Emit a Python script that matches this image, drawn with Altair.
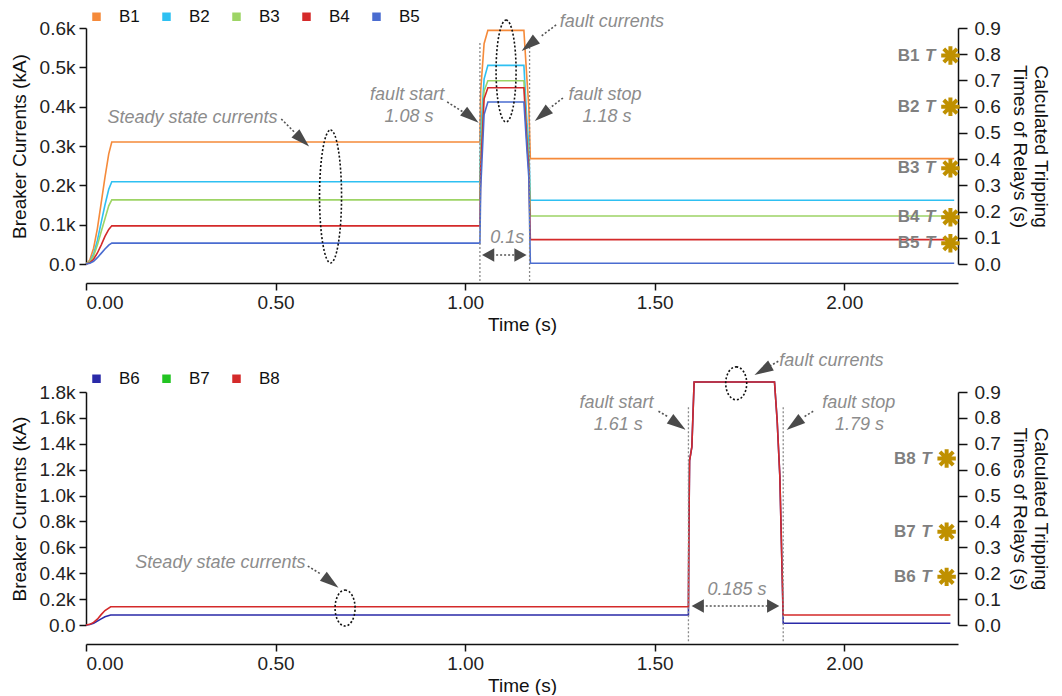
import altair as alt
import pandas as pd

FONT = "Liberation Sans"

# ---------------- top panel data (currents in kA) ----------------
top_time = [0, 0.01, 0.02, 0.03, 0.04, 0.05, 0.06, 0.068, 1.039, 1.041, 1.05, 1.06,
            1.155, 1.163, 1.168, 1.172, 2.29]
b1 = [0, 0.01, 0.04, 0.09, 0.155, 0.22, 0.28, 0.31, 0.31, 0.44, 0.56, 0.594, 0.594, 0.47, 0.40, 0.268, 0.268]
b2 = [0, 0.006, 0.025, 0.06, 0.105, 0.15, 0.19, 0.209, 0.209, 0.33, 0.47, 0.505, 0.505, 0.36, 0.30, 0.162, 0.162]
b3 = [0, 0.005, 0.02, 0.048, 0.082, 0.115, 0.148, 0.163, 0.163, 0.29, 0.44, 0.466, 0.466, 0.33, 0.27, 0.122, 0.122]
b4 = [0, 0.003, 0.012, 0.028, 0.048, 0.07, 0.088, 0.097, 0.097, 0.24, 0.42, 0.448, 0.448, 0.31, 0.24, 0.062, 0.062]
b5 = [0, 0.002, 0.007, 0.016, 0.027, 0.038, 0.048, 0.053, 0.053, 0.19, 0.38, 0.412, 0.412, 0.29, 0.22, 0.002, 0.002]
top_names = ["B1", "B2", "B3", "B4", "B5"]
top_colors = ["#f58a3a", "#2ec0f2", "#9dd465", "#d42a2a", "#4a6cd0"]
top_trip = [0.795, 0.60, 0.365, 0.178, 0.079]

# ---------------- bottom panel data (currents in kA) ----------------
bot_time = [0, 0.01, 0.02, 0.03, 0.04, 0.05, 0.065, 1.589, 1.590, 1.592, 1.598, 1.604,
            1.816, 1.823, 1.830, 1.836, 1.839, 2.28]
b6 = [0, 0.004, 0.014, 0.03, 0.047, 0.064, 0.077, 0.077, 0.68, 1.27, 1.376, 1.877, 1.877, 1.58, 1.157, 0.42, 0.013, 0.013]
b7 = [0, 0.005, 0.02, 0.045, 0.08, 0.112, 0.141, 0.141, 0.68, 1.27, 1.376, 1.877, 1.877, 1.58, 1.157, 0.42, 0.077, 0.077]
b8 = [0, 0.005, 0.02, 0.045, 0.08, 0.112, 0.141, 0.141, 0.68, 1.27, 1.376, 1.877, 1.877, 1.58, 1.157, 0.42, 0.077, 0.077]
bot_names = ["B6", "B7", "B8"]
bot_colors = ["#2a2aa8", "#22c422", "#d42a2a"]
bot_hidden = "B7"   # B7 lies exactly under B8 in the picture
bot_trip = [0.186, 0.36, 0.643]

# ---------------- annotations (data units) ----------------
top_note_text = ["Steady state currents", "fault start", "1.08 s", "fault stop", "1.18 s", "fault currents", "0.1s"]
top_note_t = [0.281, 0.847, 0.852, 1.369, 1.374, 1.387, 1.111]
top_note_v = [0.371, 0.430, 0.374, 0.430, 0.374, 0.615, 0.066]
top_arrow_t = [0.515, 0.9526, 1.258, 1.240, 1.0606]
top_arrow_v = [0.3687, 0.412, 0.422, 0.6077, 0.0229]
top_arrow_t2 = [0.552, 0.9947, 1.224, 1.1976, 1.146]
top_arrow_v2 = [0.333, 0.3865, 0.397, 0.5772, 0.0229]
top_head_t = [0.5705, 1.0158, 1.2029, 1.1686, 1.0606, 1.146]
top_head_v = [0.3153, 0.3738, 0.3788, 0.5568, 0.0229, 0.0229]
top_head_angle = [134, 128, 230, 231, 270, 90]
top_head_kind = ["big", "big", "big", "big", "small", "small"]
top_ell_t = [0.645, 1.108]
top_ell_v = [0.1716, 0.4907]
top_ell_h = [133, 102]
top_ell_w = [22, 20]
top_fault_t = [1.039, 1.170]
top_fault_v = [0.562, 0.562]
top_fault_v2 = [-0.048, -0.048]

bot_note_text = ["Steady state currents", "fault start", "1.61 s", "fault stop", "1.79 s", "fault currents", "0.185 s"]
bot_note_t = [0.3545, 1.399, 1.404, 2.038, 2.040, 1.966, 1.717]
bot_note_v = [0.478, 1.713, 1.543, 1.713, 1.543, 2.037, 0.27]
bot_arrow_t = [0.585, 1.51, 1.918, 1.826, 1.6135]
bot_arrow_v = [0.455, 1.651, 1.651, 2.037, 0.1466]
bot_arrow_t2 = [0.6195, 1.537, 1.892, 1.8016, 1.8126]
bot_arrow_v2 = [0.3935, 1.605, 1.605, 1.998, 0.1466]
bot_head_t = [0.646, 1.561, 1.868, 1.785, 1.6135, 1.8126]
bot_head_v = [0.332, 1.551, 1.551, 1.968, 0.1466, 0.1466]
bot_head_angle = [127, 125, 233, 240, 270, 90]
bot_head_kind = ["big", "big", "big", "big", "small", "small"]
bot_ell_t = [0.6833, 1.715]
bot_ell_v = [0.131, 1.867]
bot_ell_h = [36, 33]
bot_ell_w = [20, 21]
bot_fault_t = [1.589, 1.839]
bot_fault_v = [1.682, 1.682]
bot_fault_v2 = [-0.139, -0.139]

# ---------------- styling helpers ----------------
HEAD_PATH = {"big": "M0,-1L0.6,1L-0.6,1Z", "small": "M0,-1L1.1,1L-1.1,1Z"}
HEAD_SIZE = {"big": 361, "small": 150}
STAR_PATH = "M0,-1L0,1M-1,0L1,0M-0.72,-0.72L0.72,0.72M-0.72,0.72L0.72,-0.72"


def ellipse_path(r):
    k = 0.5523
    return (f"M0,-1C{k*r:.4f},-1 {r:.4f},{-k:.4f} {r:.4f},0"
            f"C{r:.4f},{k:.4f} {k*r:.4f},1 0,1"
            f"C{-k*r:.4f},1 {-r:.4f},{k:.4f} {-r:.4f},0"
            f"C{-r:.4f},{-k:.4f} {-k*r:.4f},-1 0,-1Z")


def long_df(time, names, series):
    rows = []
    for n, vals in zip(names, series):
        for t, v in zip(time, vals):
            rows.append({"time": t, "value": v, "series": n})
    return pd.DataFrame(rows)


X_ENC = alt.X("time:Q", scale=alt.Scale(domain=[0, 2.3], nice=False, zero=False),
              axis=alt.Axis(title="Time (s)", values=[0, 0.5, 1.0, 1.5, 2.0], format=".2f",
                            offset=19, tickSize=7, labelPadding=3, titlePadding=3))
T_ENC = alt.Y("trip:Q", scale=alt.Scale(domain=[0, 0.9], nice=False),
              axis=alt.Axis(orient="right", title=["Calculated Tripping", "Times of Relays (s)"],
                            values=[0, 0.1, 0.2, 0.3, 0.4, 0.5, 0.6, 0.7, 0.8, 0.9], format=".1f",
                            tickSize=9, labelPadding=7, titlePadding=9))


def panel(time, names, series, colors, hidden, trips, ymax, yvals, h,
          note_text, note_t, note_v, ar_t, ar_v, ar_t2, ar_v2,
          hd_t, hd_v, hd_a, hd_k, el_t, el_v, el_h, el_w, f_t, f_v, f_v2,
          star_t, legend_y):
    lines_df = long_df(time, names, series)
    y_enc = alt.Y("value:Q", scale=alt.Scale(domain=[0, ymax], nice=False),
                  axis=alt.Axis(title="Breaker Currents (kA)", values=yvals,
                                labelExpr="datum.value == 0 ? '0.0' : format(datum.value, '.1f') + 'k'",
                                tickSize=7, labelPadding=4, titlePadding=10))

    lines = alt.Chart(lines_df).mark_line(strokeWidth=1.6).encode(
        x=X_ENC, y=y_enc,
        color=alt.Color("series:N", scale=alt.Scale(domain=names, range=colors),
                        legend=alt.Legend(title=None, orient="none", legendX=2, legendY=legend_y,
                                          direction="horizontal", symbolType="square",
                                          symbolSize=16, symbolStrokeWidth=4.5, symbolOpacity=1,
                                          labelFontSize=17, labelFont=FONT, labelColor="#111",
                                          labelOffset=14, columnPadding=15)),
        opacity=alt.condition(f"datum.series == '{hidden}'", alt.value(0), alt.value(1)),
    )

    fault_df = pd.DataFrame({"time": f_t, "value": f_v, "value2": f_v2})
    fault_rules = alt.Chart(fault_df).mark_rule(color="#8a8a8a", strokeDash=[2, 2], strokeWidth=1.3).encode(
        x=X_ENC, y=y_enc, y2="value2:Q")

    arrow_df = pd.DataFrame({"time": ar_t, "value": ar_v, "time2": ar_t2, "value2": ar_v2})
    arrows = alt.Chart(arrow_df).mark_rule(color="#555555", strokeDash=[2, 2], strokeWidth=1.6).encode(
        x=X_ENC, y=y_enc, x2="time2:Q", y2="value2:Q")

    head_df = pd.DataFrame({"time": hd_t, "value": hd_v, "angle": hd_a,
                            "shape": [HEAD_PATH[k] for k in hd_k],
                            "size": [HEAD_SIZE[k] for k in hd_k]})
    heads = alt.Chart(head_df).mark_point(filled=True, color="#4a4a4a", opacity=1, strokeWidth=0).encode(
        x=X_ENC, y=y_enc,
        angle=alt.Angle("angle:Q", scale=None),
        shape=alt.Shape("shape:N", scale=None),
        size=alt.Size("size:Q", scale=None))

    ell_df = pd.DataFrame({"time": el_t, "value": el_v,
                           "shape": [ellipse_path(w / hh) for w, hh in zip(el_w, el_h)],
                           "size": [hh * hh for hh in el_h]})
    ells = alt.Chart(ell_df).mark_point(filled=False, color="#111111", strokeDash=[2, 2],
                                        strokeWidth=1.6, opacity=1).encode(
        x=X_ENC, y=y_enc,
        shape=alt.Shape("shape:N", scale=None),
        size=alt.Size("size:Q", scale=None))

    note_df = pd.DataFrame({"time": note_t, "value": note_v, "label": note_text})
    notes = alt.Chart(note_df).mark_text(font=FONT, fontSize=18, fontStyle="italic", color="#8c8c8c",
                                         align="center", baseline="middle").encode(
        x=X_ENC, y=y_enc, text="label:N")

    left = alt.layer(lines, fault_rules, arrows, heads, ells, notes)

    trip_df = pd.DataFrame({"time": [star_t] * len(names), "trip": trips, "series": names})
    stars = alt.Chart(trip_df).mark_point(shape=STAR_PATH, size=340, filled=False, color="#bf9000",
                                          strokeWidth=4, opacity=1).encode(x=X_ENC, y=T_ENC)
    star_lbl = alt.Chart(trip_df).mark_text(font=FONT, fontSize=17, fontWeight="bold", color="#7f7f7f",
                                            align="right", baseline="middle", dx=-31).encode(
        x=X_ENC, y=T_ENC, text="series:N")
    star_t_lbl = alt.Chart(trip_df).mark_text(font=FONT, fontSize=17, fontWeight="bold", fontStyle="italic",
                                              color="#7f7f7f", align="right", baseline="middle", dx=-15).encode(
        x=X_ENC, y=T_ENC, text=alt.value("T"))
    right = alt.layer(stars, star_lbl, star_t_lbl)

    return alt.layer(left, right).resolve_scale(y="independent").properties(width=872, height=h)


top = panel(top_time, top_names, [b1, b2, b3, b4, b5], top_colors, "none", top_trip, 0.6,
            [0, 0.1, 0.2, 0.3, 0.4, 0.5, 0.6], 236,
            top_note_text, top_note_t, top_note_v, top_arrow_t, top_arrow_v, top_arrow_t2, top_arrow_v2,
            top_head_t, top_head_v, top_head_angle, top_head_kind,
            top_ell_t, top_ell_v, top_ell_h, top_ell_w, top_fault_t, top_fault_v, top_fault_v2,
            2.28, -20)

bottom = panel(bot_time, bot_names, [b6, b7, b8], bot_colors, bot_hidden, bot_trip, 1.8,
               [0, 0.2, 0.4, 0.6, 0.8, 1.0, 1.2, 1.4, 1.6, 1.8], 233,
               bot_note_text, bot_note_t, bot_note_v, bot_arrow_t, bot_arrow_v, bot_arrow_t2, bot_arrow_v2,
               bot_head_t, bot_head_v, bot_head_angle, bot_head_kind,
               bot_ell_t, bot_ell_v, bot_ell_h, bot_ell_w, bot_fault_t, bot_fault_v, bot_fault_v2,
               2.27, -22)

chart = alt.vconcat(top, bottom, spacing=18).resolve_scale(
    color="independent", x="independent", y="independent"
).properties(
    padding={"left": 2, "top": 0, "right": 3, "bottom": 0}
).configure_view(stroke=None).configure_axis(
    grid=False, domainColor="#111", tickColor="#111", domainWidth=1.5, tickWidth=1.5,
    labelColor="#222", titleColor="#111", labelFont=FONT, titleFont=FONT,
    labelFontSize=19, titleFontSize=19, titleFontWeight="normal"
).configure_text(font=FONT)

chart.save("out.html", embed_options={"renderer": "svg", "actions": False})
